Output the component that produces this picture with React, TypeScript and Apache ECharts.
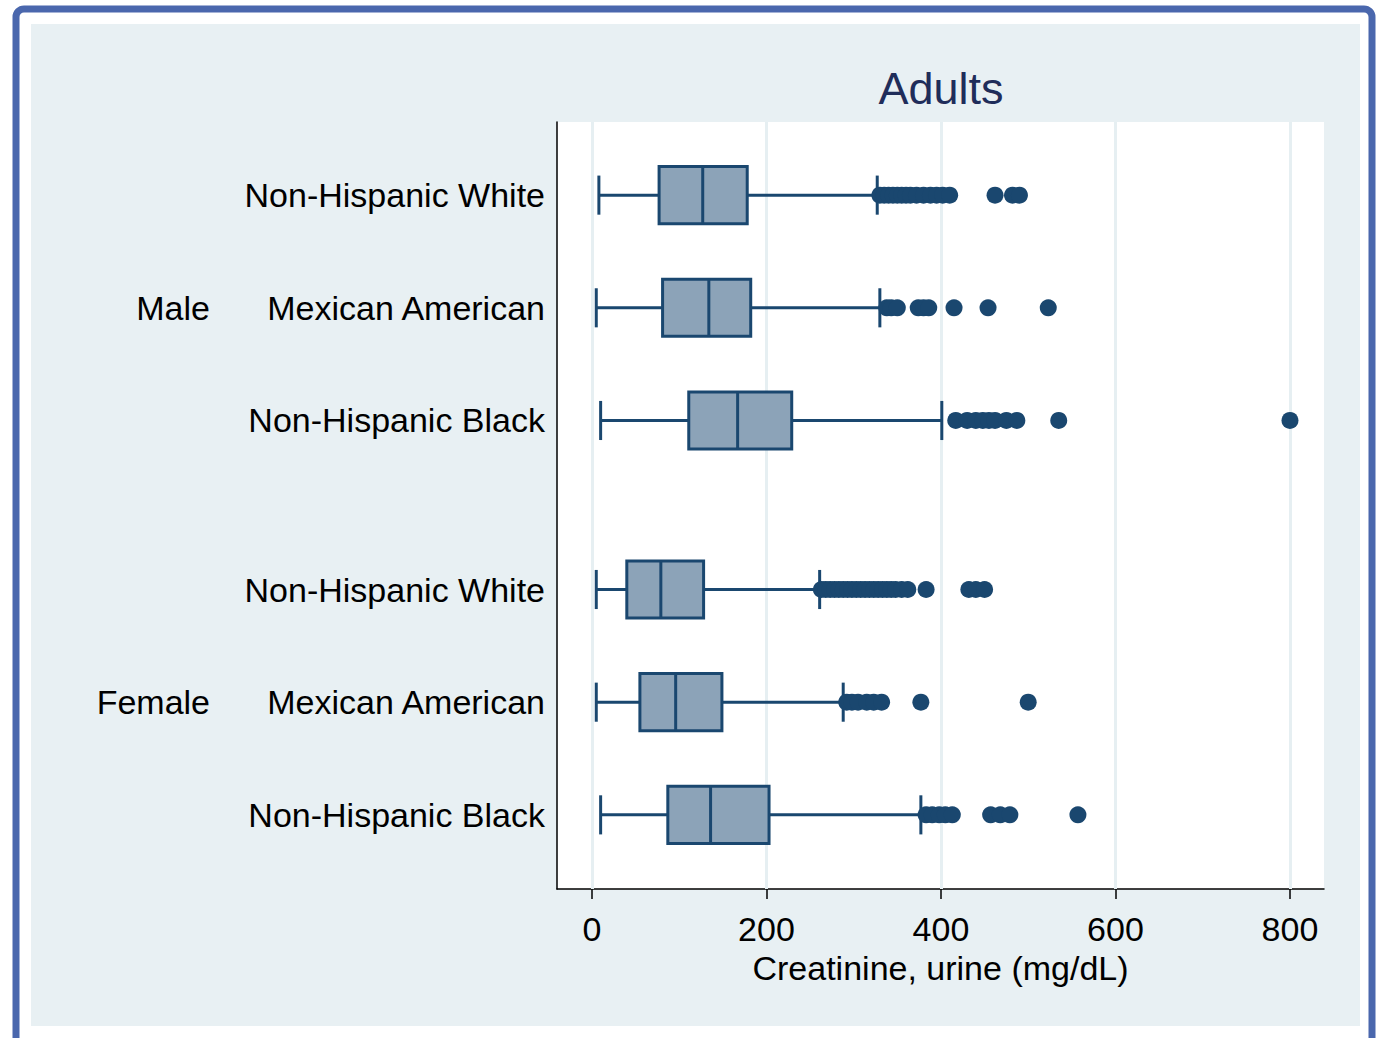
import React, { useEffect, useRef } from "react";
import * as echarts from "echarts";

const rowLabels = [
  "Non-Hispanic White",
  "Mexican American",
  "Non-Hispanic Black",
  "Non-Hispanic White",
  "Mexican American",
  "Non-Hispanic Black",
];
const rowPositions = [1, 2, 3, 4.5, 5.5, 6.5];
const groupLabels = ["Male", "Female"];
const groupPositions = [2, 5.5];

// [lower whisker, Q1, median, Q3, upper whisker]
const boxStats = [
  [8, 77, 127, 178, 327],
  [5, 81, 134, 182, 330],
  [10, 111, 167, 229, 401],
  [5, 40, 79, 128, 261],
  [5, 55, 96, 149, 288],
  [10, 87, 136, 203, 377],
];

const outliers = [
  [330, 335, 340, 345, 350, 355, 360, 365, 372, 380, 388, 395, 402, 410, 462, 482, 490],
  [338, 343, 350, 374, 380, 386, 415, 454, 523],
  [417, 430, 440, 448, 455, 462, 475, 487, 535, 800],
  [263, 268, 273, 278, 283, 288, 293, 298, 303, 308, 313, 318, 323, 328, 333, 338, 343, 348, 355, 362, 383, 432, 440, 450],
  [292, 298, 305, 315, 323, 332, 377, 500],
  [383, 390, 398, 405, 413, 457, 468, 479, 557],
];

const xTicks = [0, 200, 400, 600, 800];
const title = "Adults";
const xTitle = "Creatinine, urine (mg/dL)";

const NAVY = "#1a476f";
const BOXFILL = "#8ca3b8";
const PANEL = "#e8f0f3";

export default function App() {
  const ref = useRef<HTMLDivElement>(null);
  useEffect(() => {
    if (!ref.current) return;
    const chart = echarts.init(ref.current, null, { renderer: "svg" });
    const boxData = boxStats.map((s, i) => [rowPositions[i], ...s]);
    const outData: number[][] = [];
    outliers.forEach((arr, i) => arr.forEach((v) => outData.push([v, rowPositions[i]])));
    const labelMap: Record<string, string> = {};
    rowPositions.forEach((p, i) => (labelMap[String(p)] = rowLabels[i]));
    const groupMap: Record<string, string> = {};
    groupPositions.forEach((p, i) => (groupMap[String(p)] = groupLabels[i]));

    const font = "'Liberation Sans', Arial, sans-serif";
    chart.setOption({
      animation: false,
      backgroundColor: "#ffffff",
      graphic: [
        {
          type: "rect",
          shape: { x: 16, y: 9, width: 1356, height: 1060, r: 8 },
          style: { fill: "#ffffff", stroke: "#4a67ad", lineWidth: 7 },
          z: -10,
        },
        {
          type: "rect",
          shape: { x: 31, y: 24, width: 1329, height: 1002 },
          style: { fill: PANEL },
          z: -9,
        },
        {
          type: "text",
          x: 941,
          y: 88,
          style: {
            text: title,
            fontSize: 45,
            fontFamily: font,
            fill: "#1f2d5a",
            textAlign: "center",
            textVerticalAlign: "middle",
          },
        },
      ],
      grid: {
        left: 557,
        top: 122,
        right: 63,
        bottom: 149,
        show: true,
        backgroundColor: "#ffffff",
        borderWidth: 0,
      },
      xAxis: {
        type: "value",
        min: -40,
        max: 839,
        axisLine: { show: true, onZero: false, lineStyle: { color: "#000", width: 1.5 } },
        axisTick: {
          show: true,
          customValues: xTicks,
          length: 10,
          lineStyle: { color: "#000", width: 1.5 },
        },
        axisLabel: {
          customValues: xTicks,
          fontSize: 34,
          fontFamily: font,
          color: "#000",
          margin: 23,
        },
        splitLine: { show: false },
        name: xTitle,
        nameLocation: "middle",
        nameGap: 56,
        nameTextStyle: { fontSize: 34, fontFamily: font, color: "#000" },
      },
      yAxis: [
        {
          type: "value",
          inverse: true,
          min: 0.351,
          max: 7.158,
          axisLine: { show: true, onZero: false, lineStyle: { color: "#000", width: 1.5 } },
          axisTick: { show: false, customValues: rowPositions },
          axisLabel: {
            customValues: rowPositions,
            formatter: (v: number) => labelMap[String(v)] || "",
            fontSize: 34,
            fontFamily: font,
            color: "#000",
            margin: 12,
          },
          splitLine: { show: false },
        },
        {
          type: "value",
          inverse: true,
          min: 0.351,
          max: 7.158,
          position: "left",
          axisLine: { show: false },
          axisTick: { show: false, customValues: groupPositions },
          axisLabel: {
            customValues: groupPositions,
            formatter: (v: number) => groupMap[String(v)] || "",
            fontSize: 34,
            fontFamily: font,
            color: "#000",
            margin: 347,
          },
          splitLine: { show: false },
        },
      ],
      series: [
        {
          type: "scatter",
          data: [],
          z: 1,
          silent: true,
          markLine: {
            silent: true,
            z: 1,
            symbol: "none",
            label: { show: false },
            lineStyle: { color: "#e6eff2", width: 3, type: "solid" },
            data: xTicks.map((v) => ({ xAxis: v })),
          },
        },
        {
          type: "custom",
          z: 3,
          data: boxData,
          encode: { x: [1, 2, 3, 4, 5], y: 0 },
          renderItem: (params: any, api: any) => {
            const y = api.value(0);
            const lo = api.coord([api.value(1), y]);
            const q1 = api.coord([api.value(2), y]);
            const md = api.coord([api.value(3), y]);
            const q3 = api.coord([api.value(4), y]);
            const hi = api.coord([api.value(5), y]);
            const cy = lo[1];
            const bh = api.size([0, 0.507])[1];
            const ch = api.size([0, 0.347])[1];
            const ls = { stroke: NAVY, lineWidth: 3 };
            return {
              type: "group",
              children: [
                { type: "line", shape: { x1: lo[0], y1: cy, x2: q1[0], y2: cy }, style: ls },
                { type: "line", shape: { x1: q3[0], y1: cy, x2: hi[0], y2: cy }, style: ls },
                { type: "line", shape: { x1: lo[0], y1: cy - ch / 2, x2: lo[0], y2: cy + ch / 2 }, style: ls },
                { type: "line", shape: { x1: hi[0], y1: cy - ch / 2, x2: hi[0], y2: cy + ch / 2 }, style: ls },
                {
                  type: "rect",
                  shape: { x: q1[0], y: cy - bh / 2, width: q3[0] - q1[0], height: bh },
                  style: { fill: BOXFILL, stroke: NAVY, lineWidth: 3 },
                },
                { type: "line", shape: { x1: md[0], y1: cy - bh / 2, x2: md[0], y2: cy + bh / 2 }, style: { stroke: NAVY, lineWidth: 3 } },
              ],
            };
          },
        },
        {
          type: "scatter",
          z: 4,
          data: outData,
          symbol: "circle",
          symbolSize: 17,
          itemStyle: { color: NAVY, opacity: 1 },
        },
      ],
    });
    return () => chart.dispose();
  }, []);
  return (
    <div
      ref={ref}
      style={{ position: "fixed", left: 0, top: 0, width: 1387, height: 1038 }}
    />
  );
}
